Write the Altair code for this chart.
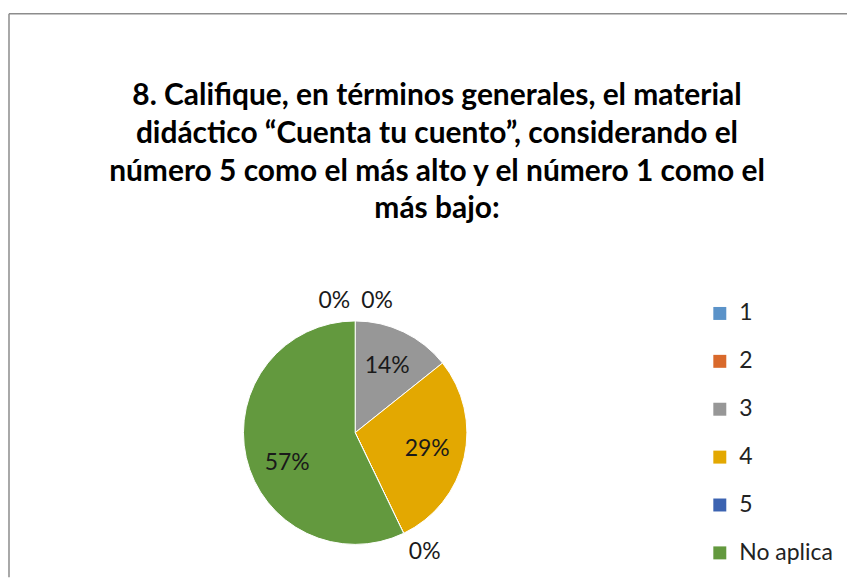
import altair as alt
import pandas as pd

categories = ["1", "2", "3", "4", "5", "No aplica"]
counts = [0, 0, 1, 2, 0, 4]
pct_labels = ["0%", "0%", "14%", "29%", "0%", "57%"]
colors = ["#5B93C9", "#D9692B", "#979797", "#E3A801", "#3C63B1", "#63993E"]
title_lines = [
    "8. Califique, en términos generales, el material",
    "didáctico “Cuenta tu cuento”, considerando el",
    "número 5 como el más alto y el número 1 como el",
    "más bajo:",
]

df = pd.DataFrame({"cat": categories, "count": counts, "label": pct_labels,
                   "idx": list(range(len(categories)))})
total = sum(counts)

W, H = 840, 565
CX, CY, R = 347, 420, 112
FONT = "Lato"

theta_scale = alt.Scale(domain=[0, total])
color = alt.Color(
    "cat:N",
    scale=alt.Scale(domain=categories, range=colors),
    sort=categories,
    legend=alt.Legend(title=None, orient="none", legendX=701, legendY=289,
                      symbolType="square", symbolSize=169, symbolStrokeWidth=0,
                      labelFont=FONT, labelFontSize=23, labelColor="#222",
                      rowPadding=24, labelOffset=8),
)

base = alt.Chart(df)
pie = base.mark_arc(x=CX, y=CY, outerRadius=R, stroke="white", strokeWidth=1).encode(
    theta=alt.Theta("count:Q", stack=True, scale=theta_scale),
    color=color,
    order=alt.Order("idx:Q"),
)

stacked = base.transform_stack(
    stack="count", groupby=[], as_=["s0", "s1"], sort=[alt.SortField("idx")]
).transform_calculate(mid="(datum.s0 + datum.s1) / 2")


def lab(flt, radius, dx=0, dy=0):
    return stacked.transform_filter(flt).mark_text(
        x=CX, y=CY, radius=radius, dx=dx, dy=dy, font=FONT, fontSize=23,
        color="#1a1a1a", align="center", baseline="middle"
    ).encode(
        theta=alt.Theta("mid:Q", stack=False, scale=theta_scale),
        text="label:N",
    )


inner = lab("datum.count > 0 && datum.cat != 'No aplica'", 74)
big = lab("datum.cat == 'No aplica'", 74, dx=4, dy=14)
l1 = lab("datum.cat == '1'", 132, dx=-21)
l2 = lab("datum.cat == '2'", 132, dx=22)
l5 = lab("datum.cat == '5'", 133, dx=12)

one = pd.DataFrame({"a": [0]})
top_rule = alt.Chart(one).mark_rule(color="#8c8c8c", strokeWidth=1.5).encode(
    x=alt.value(0), x2=alt.value(W), y=alt.value(0))
left_rule = alt.Chart(one).mark_rule(color="#8c8c8c", strokeWidth=1.5).encode(
    x=alt.value(0), y=alt.value(0), y2=alt.value(H))

chart = alt.layer(pie, inner, big, l1, l2, l5, top_rule, left_rule).properties(
    width=W, height=H,
    padding={"top": 4, "left": 0, "right": 0, "bottom": 0},
    title=alt.TitleParams(text=title_lines, font=FONT, fontSize=30, fontWeight="bold",
                          color="#000", lineHeight=38, offset=-212, anchor="middle", dx=9),
).configure_view(strokeWidth=0)

chart.save("out.html", embed_options={"renderer": "svg", "actions": False})
